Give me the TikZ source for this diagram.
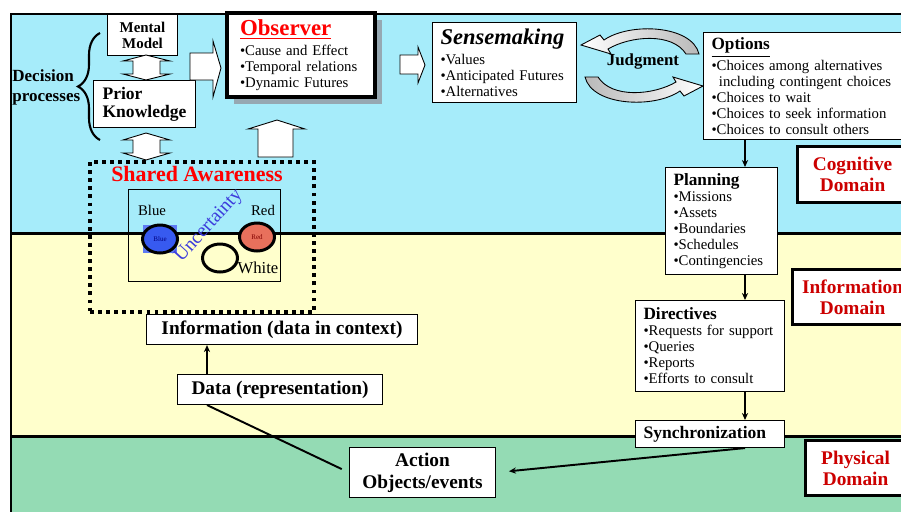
\documentclass[tikz,border=0pt]{standalone}
\usepackage{fontspec}
\setmainfont{Liberation Serif}
\usetikzlibrary{positioning,shapes.geometric,shadows,decorations.pathreplacing,arrows.meta}

\definecolor{cogblue}{RGB}{166,236,250}
\definecolor{infoyel}{RGB}{255,255,204}
\definecolor{physgreen}{RGB}{148,219,180}
\definecolor{domred}{RGB}{204,0,0}
\definecolor{shadowgray}{RGB}{150,168,178}
\definecolor{blueblob}{RGB}{55,90,240}
\definecolor{redblob}{RGB}{232,112,92}
\definecolor{uncblue}{RGB}{60,60,220}

\newcommand{\bodyfont}{\fontsize{8.4}{9.1}\selectfont}
\newcommand{\headfont}{\fontsize{9.8}{9.1}\selectfont\bfseries}
\hyphenpenalty=10000
\exhyphenpenalty=10000

\begin{document}
\begin{tikzpicture}[x=0.02cm,y=-0.02cm,
		txtbox/.style={draw,fill=white,line width=0.6pt,anchor=north west,align=left,inner xsep=0.16cm,inner ysep=0pt,font=\bodyfont},
		lblbox/.style={draw,fill=white,line width=0.6pt,anchor=north west,align=center,inner sep=0pt,font=\fontsize{11}{12.5}\selectfont\bfseries},
		dombox/.style={draw,fill=white,line width=1.8pt,anchor=north west,align=center,inner sep=0pt,text=domred,font=\fontsize{11}{12}\selectfont\bfseries},
		blockarrow/.style={draw,fill=white,line width=0.5pt},
		link/.style={line width=1.1pt,-{Stealth[length=4pt,width=3.5pt]}},
		blob/.style={ellipse,draw,line width=1.7pt,minimum width=0.7cm,minimum height=0.56cm,inner sep=0pt}]
		\useasboundingbox (0,0) rectangle (901,511);

		% domains
		\fill[cogblue]   (11,14)  rectangle (910,233);
		\fill[infoyel]   (11,233) rectangle (910,436);
		\fill[physgreen] (11,436) rectangle (910,515);
		\draw[line width=1.7pt] (910,14) -- (11,14) -- (11,515);
		\draw[line width=1.7pt] (11,233) -- (910,233);
		\draw[line width=1.7pt] (11,436) -- (910,436);

		% cognitive domain
		\node[lblbox,font=\fontsize{8.5}{9.1}\selectfont\bfseries,minimum width=1.4cm,minimum height=0.82cm]	(mental)	at (107,14)	{Mental\\Model};
		\node[txtbox,font=\fontsize{10}{10.3}\selectfont\bfseries,text width=1.68cm,inner xsep=0.18cm,minimum height=0.94cm]	(prior)	at (93,80)	{Prior\\Knowledge};
		\node[anchor=west,align=left,inner sep=0pt,font=\fontsize{9.7}{11.3}\selectfont\bfseries]	(decide)	at (12,87)	{Decision\\processes};
		\draw[line width=1.2pt,decorate,decoration={brace,amplitude=0.44cm}] (100,140) -- (100,33);

		\node[txtbox,line width=2.3pt,text width=2.44cm,inner xsep=0.26cm,minimum height=1.68cm,
			drop shadow={shadow xshift=0.14cm,shadow yshift=-0.14cm,fill=shadowgray,opacity=1}]	(observer)	at (225,11)
			{{\fontsize{13}{9.1}\selectfont\bfseries\textcolor{red}{\underline{Observer}}}\\[2.3pt]•Cause and Effect\\•Temporal relations\\•Dynamic Futures};
		\node[txtbox,text width=2.56cm,minimum height=1.6cm]	(sense)	at (432,22)
			{{\fontsize{12.8}{9.1}\selectfont\bfseries\itshape Sensemaking}\\[2.3pt]•Values\\•Anticipated Futures\\•Alternatives};
		\node[txtbox,text width=3.72cm,minimum height=2.14cm]	(options)	at (703,32)
			{{\headfont\underline{Options}}\\[0.6pt]•Choices among alternatives\\\hspace*{0.5em}including contingent choices\\•Choices to wait\\•Choices to seek information\\•Choices to consult others};
		\node[font=\fontsize{9.6}{10}\selectfont\bfseries]	(judgment)	at (643,62)	{Judgment};
		\node[txtbox,text width=1.92cm,minimum height=2.14cm]	(planning)	at (665,167)
			{{\headfont Planning}\\•Missions\\•Assets\\•Boundaries\\•Schedules\\•Contingencies};
		\node[dombox,minimum width=2.2cm,minimum height=1.12cm]	(cogdom)	at (796,145)	{Cognitive\\Domain};

		% block arrows
		\draw[blockarrow] (146,55) -- (170,61) -- (160,61) -- (160,74) -- (170,74) -- (146,80) -- (123,74) -- (133,74) -- (133,61) -- (123,61) -- cycle;
		\draw[blockarrow] (146,133) -- (170,140) -- (160,140) -- (160,153) -- (170,153) -- (146,160) -- (123,153) -- (133,153) -- (133,140) -- (123,140) -- cycle;
		\draw[blockarrow] (190,53) -- (213,53) -- (213,41) -- (221,68) -- (213,97) -- (213,80) -- (190,80) -- cycle;
		\draw[blockarrow] (277,120) -- (305,129) -- (293,129) -- (293,157) -- (258,157) -- (258,129) -- (248,129) -- cycle;
		\draw[blockarrow] (400,55) -- (418,55) -- (418,47) -- (425,65) -- (418,83) -- (418,74) -- (400,74) -- cycle;

		% judgment cycle
		\draw[line width=0.5pt,left color=white,right color=gray!55] (699,54) .. controls (692,25) and (630,22) .. (604,40) -- (600,35) -- (581,45) -- (611,54) -- (608,49) .. controls (630,36) and (672,32) .. (686,54) -- cycle;
		\draw[line width=0.5pt,left color=gray!55,right color=white] (585,77) .. controls (592,106) and (654,109) .. (680,91) -- (684,96) -- (703,86) -- (673,77) -- (676,82) .. controls (654,95) and (612,99) .. (598,77) -- cycle;

		% shared awareness
		\node[draw,line width=2.2pt,dash pattern=on 2.2pt off 2.4pt,minimum width=4.48cm,minimum height=3.0cm,anchor=north west]	(shared)	at (88,160)	{};
		\node[text=red,font=\fontsize{12.5}{13}\selectfont\bfseries]	(sharedlbl)	at (197,174)	{Shared Awareness};
		\node[draw,line width=0.8pt,minimum width=3.04cm,minimum height=1.84cm,anchor=north west,inner sep=0pt]	(scene)	at (128,189)	{};
		\node[fill=blueblob!80!white,minimum width=0.68cm,minimum height=0.56cm,inner sep=0pt]	(bluesq)	at (160,239)	{};
		\node[blob,fill=blueblob,font=\fontsize{4}{4}\selectfont,text=blue!50!black]	(blue)	at (160,239)	{Blue};
		\node[blob,fill=redblob,font=\fontsize{4}{4}\selectfont,text=red!50!black]	(red)	at (257,237)	{Red};
		\node[blob]	(white)	at (220,258)	{};
		\node[font=\fontsize{8.4}{9}\selectfont]	(bluelbl)	at (152,210)	{Blue};
		\node[font=\fontsize{8.4}{9}\selectfont]	(redlbl)	at (263,210)	{Red};
		\node[font=\fontsize{9.5}{10}\selectfont]	(whitelbl)	at (258,268)	{White};
		\node[rotate=48,inner sep=0pt,text=uncblue,font=\fontsize{11}{12}\selectfont]	(uncert)	at (209,226)	{Uncertainty};

		% information domain
		\node[lblbox,minimum width=5.42cm,minimum height=0.6cm]	(info)	at (146,314)	{Information (data in context)};
		\node[lblbox,minimum width=4.1cm,minimum height=0.6cm]	(data)	at (177,374)	{Data (representation)};
		\node[txtbox,text width=2.66cm,minimum height=1.82cm]	(directives)	at (635,300)
			{{\headfont Directives}\\•Requests for support\\•Queries\\•Reports\\•Efforts to consult};
		\node[txtbox,font=\fontsize{10}{11}\selectfont\bfseries,text width=2.66cm,minimum height=0.54cm]	(sync)	at (635,420)	{Synchronization};
		\node[dombox,minimum width=2.4cm,minimum height=1.1cm]	(infodom)	at (791,268)	{Information\\Domain};

		% physical domain
		\node[lblbox,minimum width=2.92cm,minimum height=1.0cm]	(action)	at (349,447)	{Action\\Objects/events};
		\node[dombox,minimum width=2.0cm,minimum height=1.1cm]	(physdom)	at (804,439)	{Physical\\Domain};

		% connectors
		\coordinate (spine) at (745,0);
		\coordinate (tap) at (207,0);
		\draw[link] (spine |- options.south) -- (spine |- planning.north);
		\draw[link] (spine |- planning.south) -- (spine |- directives.north);
		\draw[link] (spine |- directives.south) -- (spine |- sync.north);
		\draw[link,shorten >=0.26cm] (spine |- sync.south) -- (action.east);
		\draw[link] (tap |- data.north) -- (tap |- info.south);
		\draw[line width=1.1pt,shorten <=0.16cm] (action.west) -- (tap |- data.south);
	\end{tikzpicture}
\end{document}
